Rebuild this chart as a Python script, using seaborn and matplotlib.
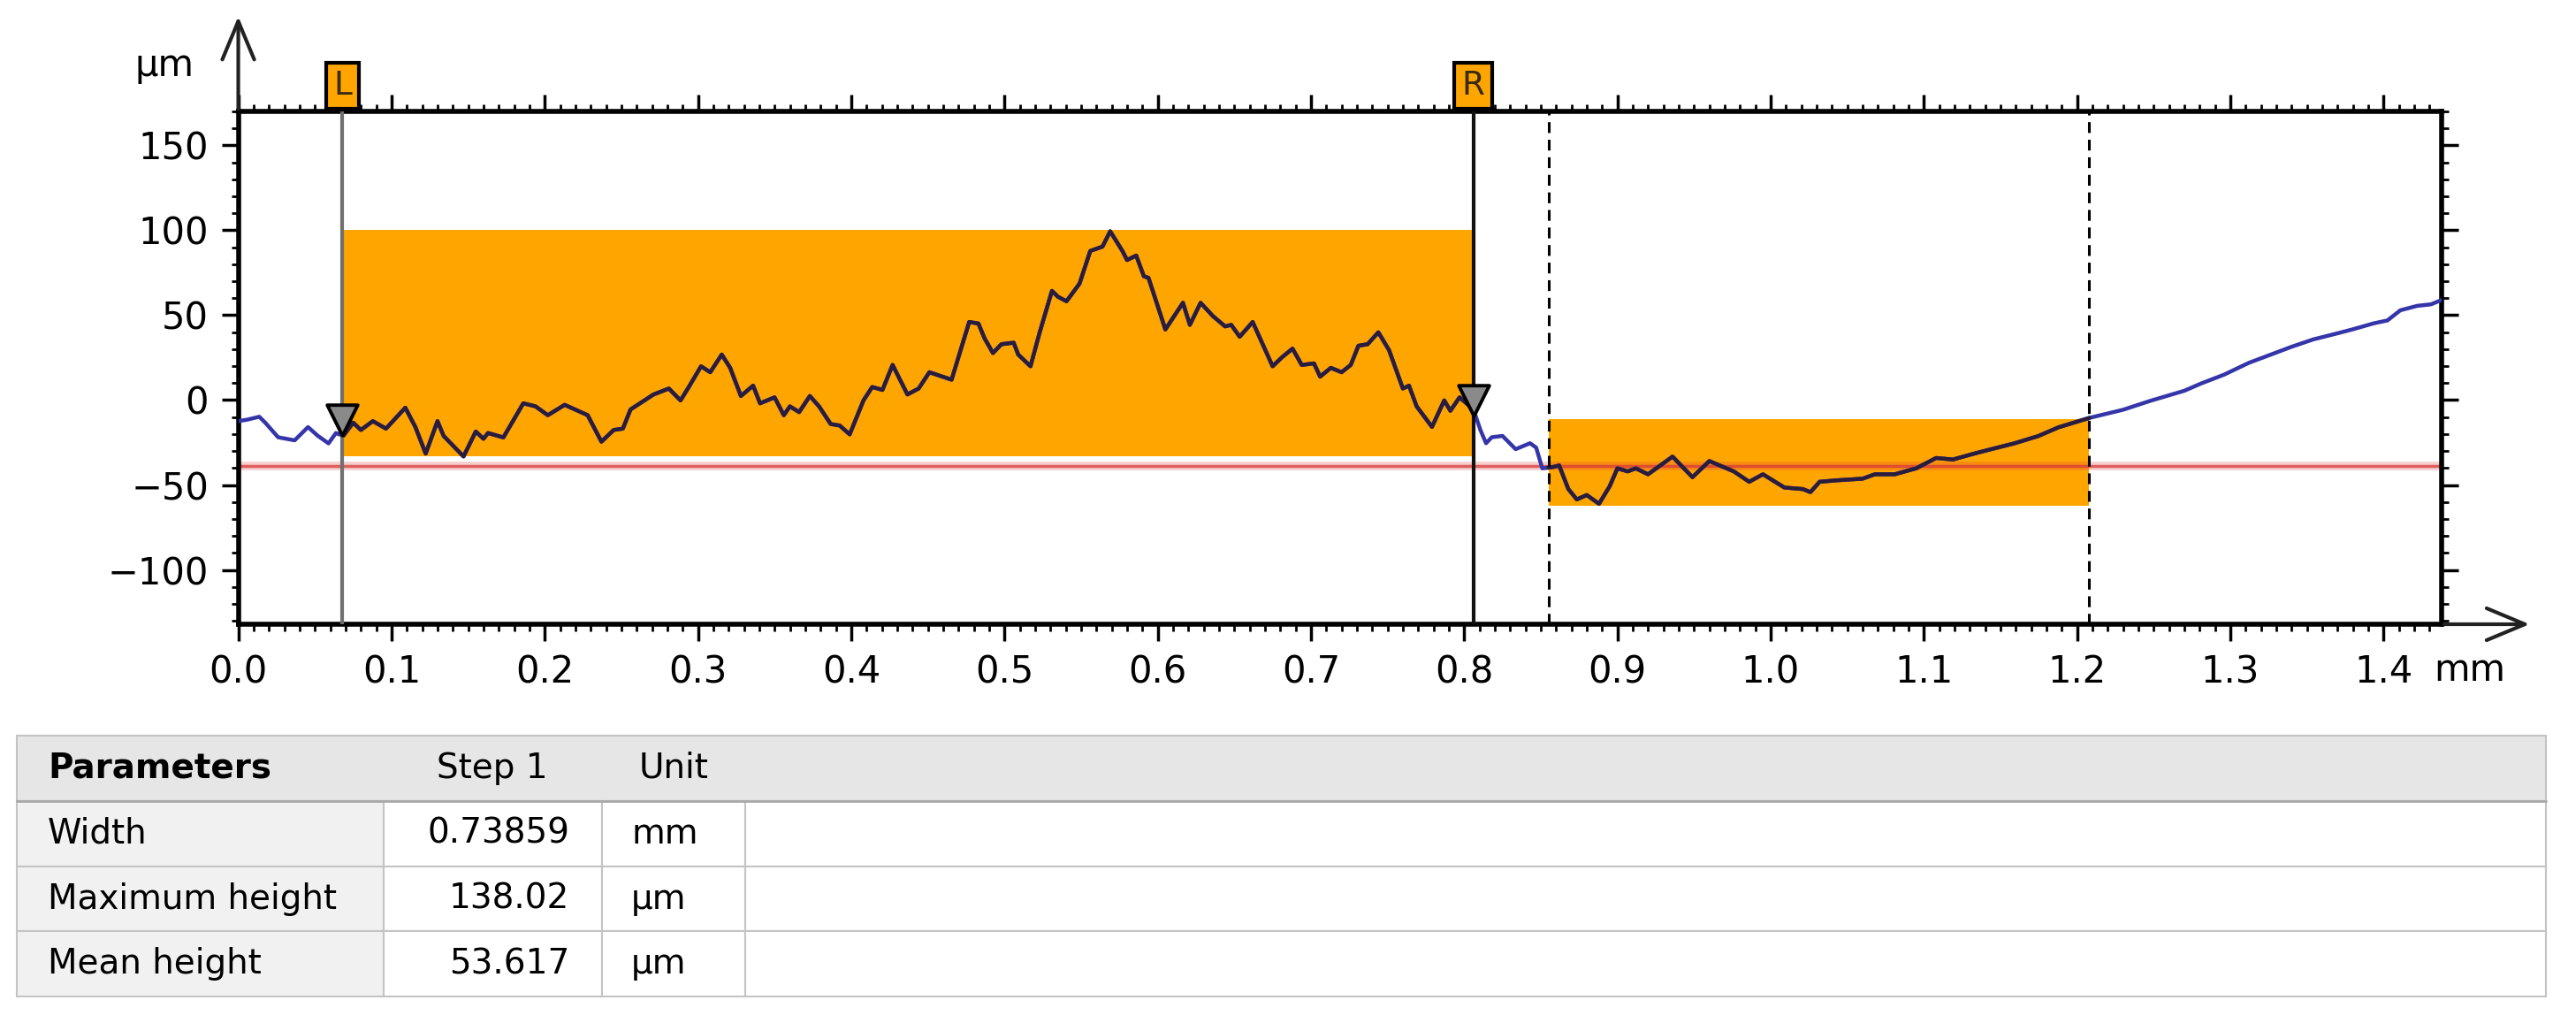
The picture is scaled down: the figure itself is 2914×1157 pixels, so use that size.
import numpy as np
import pandas as pd
import matplotlib
matplotlib.use("Agg")
import matplotlib.pyplot as plt
import matplotlib.transforms as mtransforms
from matplotlib.ticker import MultipleLocator, FormatStrFormatter
from matplotlib.patches import Rectangle
import seaborn as sns

# profile (x in mm, height in µm)
profile_x = [0.000, 0.006, 0.0137, 0.0176, 0.026, 0.0368, 0.0455, 0.052, 0.0589, 0.0637,
             0.0685, 0.075, 0.080, 0.0878, 0.0964, 0.109, 0.1156, 0.1223, 0.130, 0.134,
             0.147, 0.155, 0.160, 0.163, 0.173, 0.186, 0.194, 0.202, 0.213, 0.228,
             0.237, 0.245, 0.251, 0.256, 0.271, 0.281, 0.2886, 0.294, 0.302, 0.308,
             0.3155, 0.321, 0.328, 0.336, 0.3405, 0.350, 0.356, 0.360, 0.366, 0.373,
             0.379, 0.3866, 0.3925, 0.399, 0.408, 0.4137, 0.4204, 0.427, 0.4367, 0.444,
             0.451, 0.4655, 0.477, 0.483, 0.487, 0.4925, 0.498, 0.506, 0.509, 0.517,
             0.523, 0.531, 0.535, 0.5405, 0.549, 0.556, 0.564, 0.569, 0.577, 0.580,
             0.586, 0.591, 0.594, 0.605, 0.6165, 0.621, 0.628, 0.636, 0.644, 0.648,
             0.6535, 0.662, 0.675, 0.681, 0.688, 0.694, 0.702, 0.706, 0.713, 0.720,
             0.726, 0.731, 0.737, 0.744, 0.751, 0.760, 0.764, 0.769, 0.779, 0.787,
             0.791, 0.797, 0.806, 0.8106, 0.8143, 0.818, 0.825, 0.8336, 0.843, 0.847,
             0.851, 0.858, 0.862, 0.868, 0.8735, 0.880, 0.888, 0.895, 0.900, 0.9067,
             0.912, 0.920, 0.936, 0.949, 0.960, 0.976, 0.986, 0.995, 1.009, 1.021,
             1.026, 1.032, 1.044, 1.060, 1.068, 1.081, 1.095, 1.108, 1.119, 1.1325,
             1.1436, 1.159, 1.1746, 1.188, 1.208, 1.230, 1.2476, 1.270, 1.281, 1.296,
             1.312, 1.327, 1.340, 1.354, 1.369, 1.380, 1.3936, 1.4025, 1.411, 1.422,
             1.431, 1.438]
profile_y = [-12.4, -11.5, -9.8, -13.3, -21.9, -23.7, -15.9, -21.1, -25.5, -19.4,
             -21.1, -13.3, -17.6, -12.4, -16.8, -4.5, -15.9, -31.5, -12.4, -21.1,
             -33.2, -18.5, -22.8, -19.4, -22.0, -1.9, -3.7, -8.9, -2.8, -8.9,
             -24.5, -17.6, -16.8, -5.5, 3.3, 6.8, -0.2, 7.7, 19.9, 16.4,
             26.8, 19.0, 2.4, 8.5, -1.9, 1.6, -8.9, -3.7, -7.1, 2.4,
             -3.7, -14.1, -15.0, -20.2, -0.2, 7.7, 6.0, 20.7, 3.3, 6.8,
             16.4, 12.0, 46.0, 45.1, 36.4, 27.7, 32.9, 33.8, 26.8, 19.9,
             39.9, 64.3, 60.8, 58.2, 68.6, 87.8, 90.4, 99.4, 87.8, 82.5,
             85.1, 72.9, 72.0, 41.6, 57.3, 44.3, 57.3, 49.5, 43.4, 44.3,
             37.3, 46.0, 19.9, 25.1, 30.3, 20.7, 21.6, 13.8, 19.0, 16.4,
             20.7, 32.0, 32.9, 39.9, 29.4, 6.8, 8.5, -3.7, -15.8, -0.2,
             -6.3, 1.6, -5.4, -17.6, -25.4, -21.9, -21.1, -28.9, -25.4, -28.0,
             -40.2, -39.4, -38.5, -52.4, -58.5, -55.9, -61.1, -50.7, -40.2, -42.0,
             -40.2, -43.7, -33.3, -45.4, -35.9, -42.0, -48.1, -43.7, -51.5, -52.4,
             -54.2, -48.1, -47.2, -46.3, -43.7, -43.7, -40.2, -34.1, -35.0, -31.6,
             -29.0, -25.5, -21.2, -16.0, -10.5, -5.7, -0.5, 5.5, 9.8, 15.0,
             21.9, 27.0, 31.4, 35.7, 39.1, 41.7, 45.2, 46.9, 52.9, 55.5,
             56.4, 59.0]

# cursors L / R and the step regions
cursor_x = [0.068, 0.806]
cursor_names = ["L", "R"]
cursor_colors = ["#707070", "#111111"]
cursor_tri_y = [-11.8, -0.2]
step_x0 = [0.068, 0.855]
step_x1 = [0.806, 1.208]
step_lo = [-33, -62]
step_hi = [100, -11]
dashed_x = [0.855, 1.208]
ref_level = -39

# result table
param_names = ["Width", "Maximum height", "Mean height"]
step1_values = ["0.73859", "138.02", "53.617"]
unit_names = ["mm", "µm", "µm"]

sns.set_style("ticks")
plt.rcParams["font.family"] = ["DejaVu Sans"]
plt.rcParams["text.color"] = "black"

fig = plt.figure(figsize=(29.14, 11.57), dpi=100)

# table drawn in pixel coords on a background axes
tab = fig.add_axes([0, 0, 1, 1], zorder=-1)
tab.set_xlim(0, 2914)
tab.set_ylim(1157, 0)
tab.axis("off")
col_edges = [19, 434, 681, 843, 2880]
row_edges = [832, 906, 980, 1053, 1127]
grid_c = "#c4c4c4"
tab.add_patch(Rectangle((col_edges[0], row_edges[0]), col_edges[-1] - col_edges[0],
                        row_edges[1] - row_edges[0], fc="#e6e6e6", ec=grid_c, lw=1.5))
for i in range(3):
    y0, y1 = row_edges[i + 1], row_edges[i + 2]
    for j in range(4):
        fc = "#f1f1f1" if j == 0 else "white"
        tab.add_patch(Rectangle((col_edges[j], y0), col_edges[j + 1] - col_edges[j], y1 - y0,
                                fc=fc, ec=grid_c, lw=1.5))
tab.plot([col_edges[0], col_edges[-1]], [row_edges[1]] * 2, color="#a8a8a8", lw=2)
hy = (row_edges[0] + row_edges[1]) / 2
tfs = 28
tab.text(54, hy, "Parameters", fontsize=tfs, fontweight="bold", va="center", ha="left")
tab.text(557, hy, "Step 1", fontsize=tfs, va="center", ha="center")
tab.text(762, hy, "Unit", fontsize=tfs, va="center", ha="center")
for i, (p, v, u) in enumerate(zip(param_names, step1_values, unit_names)):
    yc = (row_edges[i + 1] + row_edges[i + 2]) / 2
    tab.text(54, yc, p, fontsize=tfs, va="center", ha="left")
    tab.text(644, yc, v, fontsize=tfs, va="center", ha="right")
    tab.text(714, yc, u, fontsize=tfs, va="center", ha="left")

# profile chart
ax = fig.add_axes([0.0925, 0.3898, 0.8554, 0.5013])
ax.set_xlim(0, 1.438)
ax.set_ylim(-132, 170)

for x0, x1, lo, hi in zip(step_x0, step_x1, step_lo, step_hi):
    ax.fill_between([x0, x1], [lo, lo], [hi, hi], color="#ffa500", lw=0, zorder=1)

ax.axhline(ref_level, color="#e04040", alpha=0.25, lw=7, zorder=2)
ax.axhline(ref_level, color="#d83a3a", alpha=0.75, lw=2.5, zorder=2)

df = pd.DataFrame({"x": profile_x, "y": profile_y})
sns.lineplot(data=df, x="x", y="y", color="#3535aa", lw=3.2, sort=False,
             estimator=None, ax=ax, zorder=4)
for x0, x1 in zip(step_x0, step_x1):
    part = df[(df.x > x0) & (df.x < x1)]
    xs = np.r_[x0, part.x.values, x1]
    ys = np.r_[np.interp(x0, df.x, df.y), part.y.values, np.interp(x1, df.x, df.y)]
    sns.lineplot(x=xs, y=ys, color="#2a1c3c", lw=3.2, sort=False, estimator=None,
                 ax=ax, zorder=4)

for x, c in zip(cursor_x, cursor_colors):
    ax.axvline(x, color=c, lw=3, zorder=5)
for x in dashed_x:
    ax.axvline(x, color="black", lw=2.2, ls=(0, (4, 2.5)), zorder=5)

sns.scatterplot(x=cursor_x, y=cursor_tri_y, marker="v", s=620, color="#8a8a8a",
                edgecolor="black", linewidth=2.8, zorder=6, ax=ax, clip_on=False)

blend = mtransforms.blended_transform_factory(ax.transData, ax.transAxes)
for x, name in zip(cursor_x, cursor_names):
    ax.annotate(name, xy=(x, 1.0), xycoords=blend, xytext=(0, 8), textcoords="offset points",
                ha="center", va="bottom", fontsize=27, color="#3a2a10",
                bbox=dict(boxstyle="square,pad=0.22", fc="#ffa500", ec="black", lw=3),
                annotation_clip=False, zorder=10)

ax.xaxis.set_major_locator(MultipleLocator(0.1))
ax.xaxis.set_minor_locator(MultipleLocator(0.01))
ax.xaxis.set_major_formatter(FormatStrFormatter("%.1f"))
ax.yaxis.set_major_locator(MultipleLocator(50))
ax.yaxis.set_minor_locator(MultipleLocator(10))
ax.tick_params(which="both", direction="out", top=True, right=True,
               labeltop=False, labelright=False, color="black", labelcolor="black")
ax.tick_params(which="major", length=14, width=2.5, labelsize=30, pad=10)
ax.tick_params(which="minor", length=6, width=2)
for s in ax.spines.values():
    s.set_linewidth(4)
    s.set_color("black")
ax.set_xlabel("")
ax.set_ylabel("")

# axis arrows and units
ax.annotate("", xy=(0, 1.19), xytext=(0, 1.0), xycoords="axes fraction",
            arrowprops=dict(arrowstyle="->,head_length=1.2,head_width=0.5", lw=3,
                            color="#222222", mutation_scale=26),
            annotation_clip=False)
ax.annotate("", xy=(1.041, 0), xytext=(1.0, 0), xycoords="axes fraction",
            arrowprops=dict(arrowstyle="->,head_length=1.2,head_width=0.5", lw=3,
                            color="#222222", mutation_scale=26),
            annotation_clip=False)
fig.text(0.0638, 0.936, "µm", fontsize=30, ha="center", va="center")
ax.text(1.456, -0.09, "mm", transform=blend, fontsize=30, ha="center", va="center",
        clip_on=False)

fig.savefig("out.png", dpi=100)
